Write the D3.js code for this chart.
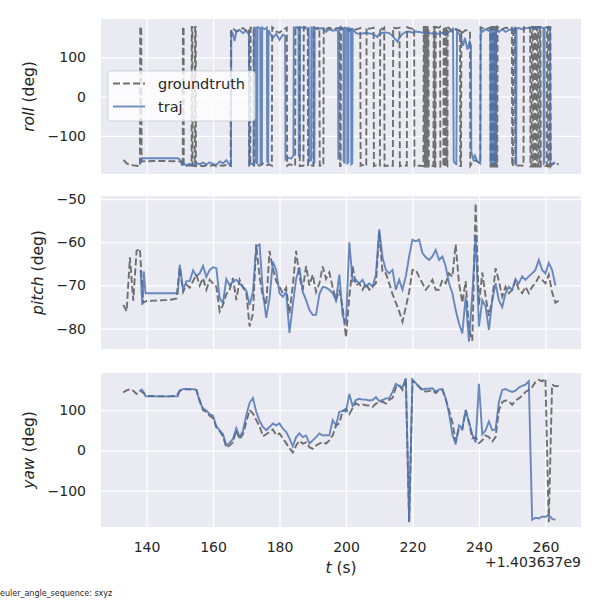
<!DOCTYPE html>
<html>
<head>
<meta charset="utf-8">
<script src="https://cdn.jsdelivr.net/npm/d3@7"></script>
<style>
body { margin: 0; background: #fff; }
svg text { font-family: "DejaVu Sans", sans-serif; fill: #262626; }
</style>
</head>
<body>
<svg id="chart" width="600" height="600"></svg>
<script>
// time grids (seconds, offset from 1.403637e9)
var gtTime = d3.range(133, 265);
var trajTime = [138.2, 138.7, 139.2, 139.7, 149.4].concat(d3.range(150, 264));

var xTicks = [140, 160, 180, 200, 220, 240, 260];
var rollTicks = [-100, 0, 100];
var pitchTicks = [-80, -70, -60, -50];
var yawTicks = [-100, 0, 100];

// roll wraps around +-180, so it keeps its own [t, deg] pairs
var gtRoll = [
  [133.1,-161],[134,-170],[135,-174],[136,-175],[137,-176],[138.0,-177],
  [138.1,178],[138.4,178],[138.5,-165],[142,-164],[146,-164],[150.6,-165],
  [150.7,-176],[150.9,-177],[150.95,178],[151.15,178],[151.2,-177],[152,-176],[153,-175],[153.55,-176],
  [153.6,178],[153.8,178],[153.85,-176],[154.5,-177],[154.6,178],[154.8,178],[154.85,-177],
  [156,-175],[157,-177],[158,-175],[159,-176],[160,-174],[161,-177],[162,-175],[163,-176],[164,-174],[165.3,-176],
  [165.4,170],[166,174],[167,166],[168,171],[169,175],[170,168],[170.8,173],
  [170.9,-176],[171.2,-176],[171.3,176],[172.2,175],[172.3,-175],[173,-172],[174,-176],[175,-170],[176,-175],[177,-173],[177.7,-176],
  [177.8,177],[178.5,172],[179,166],[180,163],[181,170],[182.2,176],
  [182.3,-176],[183,-172],[184,-175],[184.7,-176],
  [184.8,178],[185.5,175],[186.0,177],
  [186.1,-177],[187.2,-176],
  [187.3,178],[188.5,176],
  [188.6,-177],[189.5,-175],[190.2,-176],
  [190.3,177],[191,174],[192.0,176],
  [192.1,-176],[193.2,-175],
  [193.3,177],[194,172],[195,176],[196,170],[197,174],[198.1,176],
  [198.2,-177],[198.4,-177],
  [198.5,177],[199,173],[200,176],[201,168],[202,174],[203,171],[204.3,175],
  [204.4,-176],[205,-174],[206.1,-176],
  [206.2,177],[207,173],[208.3,176],
  [208.4,-177],[209,-175],[210.2,-176],
  [210.3,177],[211,172],[211.5,176],
  [211.6,-177],[212.5,-176],[213,-174],[214.1,-176],
  [214.2,177],[215,174],[216.1,176],
  [216.2,-177],[217,-175],[218.3,-176],
  [218.4,177],[219,175],[220,173],[220.5,176],
  [220.6,-177],[221.5,-176],[222.5,-176],[223.3,-177],
  [223.4,178],[223.6,178],[223.7,-178],[223.9,-178],[224.0,178],[224.2,178],[224.3,-178],[224.5,-178],[224.6,178],[224.8,178],[224.9,-178],
  [225.5,-176],[226.3,-177],
  [226.4,178],[226.6,178],[226.7,-178],[226.9,-178],[227.0,178],[228.0,176],[228.3,178],
  [228.4,-178],[229.3,-177],
  [229.4,178],[229.6,178],[229.7,-178],[229.9,-178],[230.0,178],[230.2,178],[230.3,-178],[230.5,-178],[230.6,178],
  [231.5,170],[232,165],[233,172],[234.3,168],
  [234.4,-177],[234.6,-177],
  [234.7,170],[235,163],[236,170],[237.3,166],
  [237.4,-176],[238,-168],[239,-162],[240.4,-170],
  [240.5,177],[241,175],[242,172],[243.4,176],
  [243.5,-178],[243.7,-178],[243.8,178],[244.0,178],[244.1,-178],[244.3,-178],[244.4,178],[244.6,178],[244.7,-178],[244.9,-178],[245.0,178],[245.2,178],[245.3,-178],[245.5,-178],[245.6,178],
  [246,175],[247,172],[248,176],[249,174],[249.9,176],
  [250.0,-177],[250.2,-177],
  [250.3,177],[250.9,176],
  [251.0,-176],[252,-175],[253.4,-176],
  [253.5,177],[254.5,175],[255.4,176],
  [255.5,-178],[255.8,-178],[255.9,178],[256.2,178],[256.3,-178],[256.6,-178],[256.7,178],[257.0,178],[257.1,-178],[257.4,-178],[257.5,178],[257.8,178],[257.9,-178],[258.2,-178],[258.3,178],[258.5,178],[258.6,-178],
  [259.5,-176],[260.4,-177],
  [260.5,178],[260.8,178],[260.9,-178],[261.2,-178],[261.3,178],[261.5,178],[261.6,-177],
  [262,-172],[263,-171],[264,-172]
];

var trajRoll = [
  [138.2,-170],[138.6,-157],[139.7,-157],[149.4,-157],[150.0,-160],[150.7,-174],[151.5,-172],[152,-175],[153,-171],[154,-174],[155,-169],[156,-172],[157,-168],[158,-173],[159,-167],[160,-171],[161,-174],[162,-165],[163,-170],[164,-162],[165,-174],[165.4,-176],
  [165.5,168],[166,160],[166.5,142],[167,165],[168,170],[169,162],[170,168],[170.8,158],
  [170.9,-172],[171.6,-171],[172.2,-174],
  [172.3,176],[172.8,176],
  [172.9,-168],[173.3,-170],
  [173.4,177],[174.2,175],
  [174.3,-170],[174.7,-172],
  [174.8,176],[175.5,172],[176.2,176],
  [176.3,-165],[176.6,-168],
  [176.7,170],[177,163],[178,150],[179,160],[180,145],[181,158],[181.7,155],
  [181.8,-160],[182.5,-155],[183.5,-158],[184.2,-150],
  [184.3,176],[185,177],[185.7,176],
  [185.8,-150],[186.1,-155],
  [186.2,177],[187,176],[188,174],[188.8,175],
  [188.9,-165],[189.5,-162],
  [189.6,176],[190.2,172],
  [190.3,-170],[190.5,-168],
  [190.6,176],[191.5,172],[192.5,175],[193.5,170],[194,165],[195,172],[196,168],[197,170],[197.6,168],
  [197.7,-160],[197.8,-155],
  [197.9,175],[198.5,176],[199.2,174],
  [199.3,-165],[199.6,-170],
  [199.7,176],[200.3,174],
  [200.4,-170],[200.7,-168],
  [200.8,175],[201.5,172],
  [201.6,-172],[201.9,-170],
  [202.0,172],[202.3,170],[203,162],[204,160],[205,161],[206,163],[207,161],[208,160],[209,155],[209.5,152],[210,160],[211,163],[212,164],[213,162],[214,155],[215,145],[215.5,140],[216,150],[217,160],[218,165],[219,166],[220,163],[221,166],[222,165],[223,163],[224,163],[225,162],[226,161],[227,160],[228,161],[229,163],[230,160],[231,165],[232,170],[232.2,176],
  [232.4,-165],[232.8,-170],[233.2,-172],
  [233.4,168],[233.8,163],[234.5,155],[235.2,130],[235.8,150],[236.5,120],[237.2,140],[237.6,130],
  [237.7,-140],[238.3,-160],[238.8,-150],[239.5,-165],[240.4,-170],
  [240.5,170],[241,165],[242,172],[243,168],[243.4,172],
  [243.5,-168],[243.9,-170],
  [244.0,172],[244.5,165],
  [244.6,-170],[245.0,-168],
  [245.1,170],[246,165],[247,172],[248,165],[249,170],[250,172],[250.9,174],
  [251.0,-172],[251.2,-172],
  [251.3,174],[252,175],[253,172],[254,174],[255,176],[256,175],[257,176],[258,177],[259,176],[259.4,175],
  [259.5,-170],[259.7,-168],
  [259.8,176],[260.5,176],[261.4,175],
  [261.5,-170],[262,-172],[262.5,-168],[263,-170]
];

var gtPitch = [
  -74.5, -76, -63.5, -73.5, -62, -61.5, -74,
  -73.6, -73.6, -73.5, -73.5, -73.5, -73.4, -73.4, -73.3, -73.2, -73.0,
  -65.8, -71.5, -69.8, -70.5, -69, -67.5, -70, -68.3, -71, -68.7,
  -69.5, -70.3, -76, -74.5, -72, -71, -68.3, -73.4, -68.7, -70.5,
  -71.5, -79.5, -76.5, -60.5, -68, -72.6, -74.5, -62, -66, -69,
  -70.3, -71.8, -70.5, -76.5, -70, -62, -68, -71, -65.5, -70,
  -67.5, -71.5, -69.5, -65.6, -68.5, -67, -70.5, -73.4, -71, -75,
  -82, -72.6, -65.6, -70, -69.5, -71, -69.5, -71, -70.3, -69.5,
  -57.5, -67, -67.2, -69.5, -72, -74, -76, -78.4, -75, -71.5,
  -66.4, -66.4, -68, -69.5, -71, -70, -68.7, -71, -71, -68.7,
  -69.5, -67.2, -68, -60.5, -69.5, -74, -69, -80, -82.8, -51,
  -74.5, -67, -72.6, -77, -73.4, -66, -69, -72.6, -70.3, -71.8,
  -71, -68.7, -71, -71.8, -70.3, -71.8, -70.3, -69.5, -68, -68.7,
  -69.5, -67.5, -71.5, -74, -73.5
];

var trajPitch = [
  -66.4, -74.5, -66.8, -71.8, -71.8,
  -65.2, -71, -69, -69, -66.5, -67.8, -67.2, -65.5, -68, -66.4,
  -65.8, -66, -73, -74, -68.5, -70, -69, -68.7, -69.5, -70.3,
  -71.2, -74.5, -71.5, -61, -60.5, -71.5, -77.5, -73, -64.5, -66.5,
  -71.8, -72.6, -71.5, -81, -74.5, -68.5, -65.8, -71.5, -73.4, -75.7,
  -76.8, -76.8, -72, -70.3, -70.5, -71, -71.8, -73.4, -67.5, -77,
  -78.8, -60, -69, -68.7, -69.5, -68.7, -70.3, -69.5, -70.3, -67.5,
  -57, -63.5, -66.4, -67.2, -66.4, -71, -68.7, -71, -67.9, -63.3,
  -59.4, -59.8, -59.4, -62.5, -63.5, -64.1, -63.3, -61.8, -64.1, -63.3,
  -65.6, -69.5, -71.8, -75.7, -78.8, -81.1, -72.6, -83, -72, -58.3,
  -79.5, -73.4, -74.9, -80.3, -73.4, -69.5, -73.4, -75, -71.8, -70.3,
  -71, -68.7, -69.5, -67.9, -68.7, -67.9, -67.2, -66.4, -64.1, -66.4,
  -67.2, -64.8, -66.4, -70
];

var gtYaw = [
  144, 149, 152, 148, 140, 148, 143,
  135, 135, 135, 135, 134, 134, 134, 134, 135, 135,
  148, 151, 152, 151, 152, 150, 125, 100, 95, 86,
  80, 57, 48, 35, 8, 12, 20, 50, 28, 40,
  70, 100, 92, 75, 60, 35, 40, 46, 52, 38,
  42, 30, 18, 5, -5, 12, 24, 17, 20, 8,
  4, 12, 17, 21, 17, 25, 37, 62, 67, 98,
  103, 90, 105, 117, 112, 114, 112, 111, 108, 116,
  118, 121, 116, 125, 130, 156, 162, 150, 178, -178,
  175, 166, 158, 148, 146, 147, 150, 142, 150, 150,
  127, 100, 70, 22, 55, 52, 100, 70, 30, 33,
  18, 25, 37, 33, 22, 33, 100, 120, 124, 122,
  113, 124, 129, 136, 145, 150, 157, 170, 175, 171,
  178, -178, 163, 159, 160
];

var trajYaw = [
  152, 150, 144, 134, 134,
  149, 152, 152.5, 152, 152, 150, 120, 104, 99, 90,
  86, 60, 50, 40, 12, 19, 28, 55, 33, 48,
  87, 118, 130, 96, 73, 58, 50, 58, 67, 62,
  67, 54, 46, 30, 10, 33, 42, 33, 37, 17,
  25, 33, 42, 37, 38, 37, 75, 62, 96, 98,
  96, 140, 110, 125, 128, 126, 126, 124, 125, 132,
  122, 125, 129, 129, 145, 165, 160, 155, 179, -176,
  175, 167, 158, 151, 153, 153, 154, 146, 151, 152,
  129, 92, 40, 15, 62, 55, 100, 70, 40, 20,
  165, 40, 50, 72, 50, 52, 120, 150, 152, 148,
  145, 148, 156, 160, 163, 172, -172, -167, -169, -164,
  -165, -160, -170, -172
];

function zip(ts, vs) {
  return ts.map(function(t, i) { return [t, vs[i]]; });
}

var panels = [
  { name: "roll",  top: 19,  bottom: 174, domain: [-197, 198],   ticks: rollTicks,  labelX: 29,   gt: gtRoll, traj: trajRoll },
  { name: "pitch", top: 196, bottom: 349, domain: [-84.7, -49.3], ticks: pitchTicks, labelX: 37.5, gt: zip(gtTime, gtPitch), traj: zip(trajTime, trajPitch) },
  { name: "yaw",   top: 373, bottom: 527, domain: [-190, 192],   ticks: yawTicks,   labelX: 29,   gt: zip(gtTime, gtYaw), traj: zip(trajTime, trajYaw) }
];

var svg = d3.select("#chart");
var left = 101, right = 581;

var x = d3.scaleLinear().domain([126.3, 270.7]).range([left, right]);

panels.forEach(function(p, i) {
  var h = p.bottom - p.top;
  var y = d3.scaleLinear().domain(p.domain).range([p.bottom, p.top]);
  var g = svg.append("g");

  g.append("rect")
    .attr("x", left).attr("y", p.top)
    .attr("width", right - left).attr("height", h)
    .attr("fill", "#EAEAF2");

  var xa = g.append("g")
    .attr("transform", "translate(0," + p.bottom + ")")
    .call(d3.axisBottom(x).tickValues(xTicks).tickSize(-h).tickPadding(15.5)
      .tickFormat(i === 2 ? d3.format("d") : ""));

  var ya = g.append("g")
    .attr("transform", "translate(" + left + ",0)")
    .call(d3.axisLeft(y).tickValues(p.ticks).tickSize(-(right - left)).tickPadding(15));

  [xa, ya].forEach(function(a) {
    a.select(".domain").remove();
    a.selectAll(".tick line").attr("stroke", "#fff").attr("stroke-width", 1.25);
    a.selectAll(".tick text").attr("font-size", 14).attr("fill", "#262626")
      .style("font-family", "DejaVu Sans");
  });

  var line = d3.line()
    .x(function(d) { return x(d[0]); })
    .y(function(d) { return y(d[1]); });

  g.append("path")
    .datum(p.gt)
    .attr("fill", "none")
    .attr("stroke", "#6f6f6f")
    .attr("stroke-width", 1.9)
    .attr("stroke-dasharray", "7,3")
    .attr("d", line);

  g.append("path")
    .datum(p.traj)
    .attr("fill", "none")
    .attr("stroke", "#4C72B0")
    .attr("stroke-opacity", 0.82)
    .attr("stroke-width", 1.9)
    .attr("d", line);

  var lab = g.append("text")
    .attr("transform", "translate(" + p.labelX + "," + ((p.top + p.bottom) / 2) + ") rotate(-90)")
    .attr("text-anchor", "middle")
    .attr("dominant-baseline", "central")
    .attr("font-size", 15.5);
  lab.append("tspan").attr("font-style", "italic").text(p.name);
  lab.append("tspan").text(" (deg)");
});

// legend in the roll panel
var lg = svg.append("g");
lg.append("rect")
  .attr("x", 108).attr("y", 71).attr("width", 147).attr("height", 50).attr("rx", 3)
  .attr("fill", "#fff").attr("fill-opacity", 0.8)
  .attr("stroke", "#cccccc").attr("stroke-opacity", 0.8);
lg.append("line")
  .attr("x1", 113).attr("x2", 145).attr("y1", 83.5).attr("y2", 83.5)
  .attr("stroke", "#6f6f6f").attr("stroke-width", 1.9).attr("stroke-dasharray", "7,3");
lg.append("line")
  .attr("x1", 113).attr("x2", 145).attr("y1", 106.5).attr("y2", 106.5)
  .attr("stroke", "#4C72B0").attr("stroke-opacity", 0.82).attr("stroke-width", 1.9);
lg.append("text").attr("x", 158).attr("y", 83.5).attr("dominant-baseline", "central")
  .attr("font-size", 14.5).text("groundtruth");
lg.append("text").attr("x", 158).attr("y", 106.5).attr("dominant-baseline", "central")
  .attr("font-size", 14.5).text("traj");

// x label and offset
var xl = svg.append("text")
  .attr("x", (left + right) / 2).attr("y", 573)
  .attr("text-anchor", "middle").attr("font-size", 15.5);
xl.append("tspan").attr("font-style", "italic").text("t");
xl.append("tspan").text(" (s)");

svg.append("text")
  .attr("x", right).attr("y", 567)
  .attr("text-anchor", "end").attr("font-size", 14)
  .text("+1.403637e9");

svg.append("text")
  .attr("x", 0).attr("y", 596)
  .attr("font-size", 8)
  .text("euler_angle_sequence: sxyz");
</script>
</body>
</html>
